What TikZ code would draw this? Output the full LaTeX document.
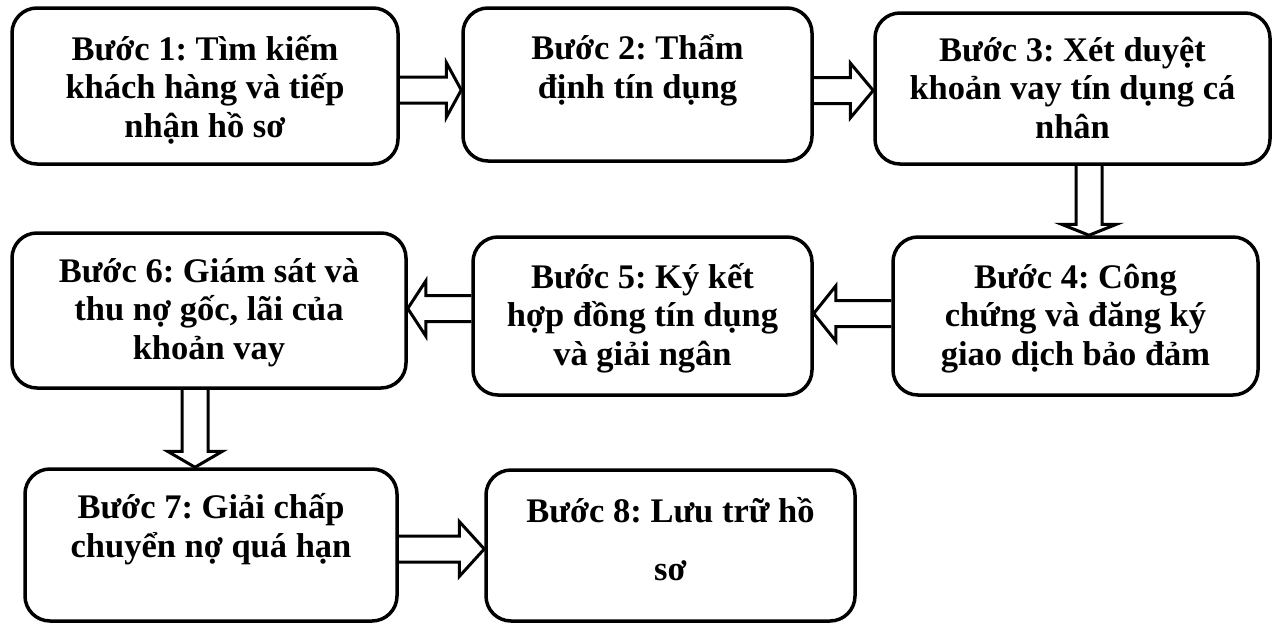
\documentclass[tikz,border=0pt]{standalone}
\usepackage{fontspec}
\setmainfont{Liberation Serif}
\usetikzlibrary{calc}
\frenchspacing
\tikzset{
  box/.style={draw, line width=3.5pt, rounded corners=25pt, inner sep=0pt},
  txt/.style={font=\fontsize{34.5}{38.5}\selectfont\bfseries\frenchspacing, align=center, inner sep=0pt, anchor=base},
  blk/.style={draw, line width=3pt, line join=miter},
}
% horizontal block arrow: #1 start, #2 end, #3 head length, #4 direction (+1 right, -1 left)
\newcommand\arrH[4]{%
  \draw[blk] let \p1=(#1), \p2=(#2) in
    ({\x1},{\y1+13pt}) -- ({\x2-(#4)*(#3pt)},{\y1+13pt}) -- ({\x2-(#4)*(#3pt)},{\y1+27.5pt})
    -- ({\x2},{\y1}) -- ({\x2-(#4)*(#3pt)},{\y1-27.5pt}) -- ({\x2-(#4)*(#3pt)},{\y1-13pt}) -- ({\x1},{\y1-13pt});}
% downward block arrow: #1 start, #2 end, #3 head length
\newcommand\arrD[3]{%
  \draw[blk] let \p1=(#1), \p2=(#2) in
    ({\x1-13pt},{\y1}) -- ({\x1-13pt},{\y2+#3pt}) -- ({\x1-27.5pt},{\y2+#3pt})
    -- ({\x1},{\y2}) -- ({\x1+27.5pt},{\y2+#3pt}) -- ({\x1+13pt},{\y2+#3pt}) -- ({\x1+13pt},{\y1});}
\begin{document}
\begin{tikzpicture}[x=1pt, y=-1pt]
\useasboundingbox (0,0) rectangle (1277,624);
% boxes
\node[box, minimum width=386pt, minimum height=156pt] (b1) at (205,86) {};
\node[box, minimum width=349pt, minimum height=153pt] (b2) at (637.5,84.5) {};
\node[box, minimum width=395pt, minimum height=151pt] (b3) at (1072.5,88.5) {};
\node[box, minimum width=365pt, minimum height=158pt] (b4) at (1075.5,316) {};
\node[box, minimum width=339pt, minimum height=158pt] (b5) at (642.5,316) {};
\node[box, minimum width=394pt, minimum height=155pt] (b6) at (209,310.5) {};
\node[box, minimum width=372pt, minimum height=152pt] (b7) at (211,545) {};
\node[box, minimum width=369pt, minimum height=151pt] (b8) at (670.5,545.5) {};
% texts (base anchor = baseline of the last line)
\node[txt] (t1) at (205,137) {Bước 1: Tìm kiếm\\khách hàng và tiếp\\nhận hồ sơ};
\node[txt] (t2) at (637.5,98) {Bước 2: Thẩm\\định tín dụng};
\node[txt] (t3) at (1072.5,138) {Bước 3: Xét duyệt\\khoản vay tín dụng cá\\nhân};
\node[txt] (t4) at (1075.5,365) {Bước 4: Công\\chứng và đăng ký\\giao dịch bảo đảm};
\node[txt] (t5) at (642.5,365) {Bước 5: Ký kết\\hợp đồng tín dụng\\và giải ngân};
\node[txt] (t6) at (209,359) {Bước 6: Giám sát và\\thu nợ gốc, lãi của\\khoản vay};
\node[txt] (t7) at (211,557) {Bước 7: Giải chấp\\chuyển nợ quá hạn};
\node[txt] (t8) at (670.5,580) {Bước 8: Lưu trữ hồ\\[19.5pt]sơ};
% arrow end points
\coordinate (a1s) at (b1.east |- 0,90);   \coordinate (a1e) at (b2.west |- 0,90);
\coordinate (a2s) at (b2.east |- 0,90.5); \coordinate (a2e) at (b3.west |- 0,90.5);
\coordinate (a3s) at (b3.south -| 1089,0); \coordinate (a3e) at (b4.north -| 1089,0);
\coordinate (a4s) at (b4.west |- 0,313.5); \coordinate (a4e) at (b5.east |- 0,313.5);
\coordinate (a5s) at (b5.west |- 0,308.5); \coordinate (a5e) at (b6.east |- 0,308.5);
\coordinate (a6s) at (b6.south -| 195,0); \coordinate (a6e) at (b7.north -| 195,0);
\coordinate (a7s) at (b7.east |- 0,549);  \coordinate (a7e) at (b8.west |- 0,549);
% block arrows
\arrH{a1s}{a1e}{15}{1}
\arrH{a2s}{a2e}{23}{1}
\arrD{a3s}{a3e}{11}
\arrH{a4s}{a4e}{22}{-1}
\arrH{a5s}{a5e}{18}{-1}
\arrD{a6s}{a6e}{16}
\arrH{a7s}{a7e}{25}{1}
\end{tikzpicture}
\end{document}
